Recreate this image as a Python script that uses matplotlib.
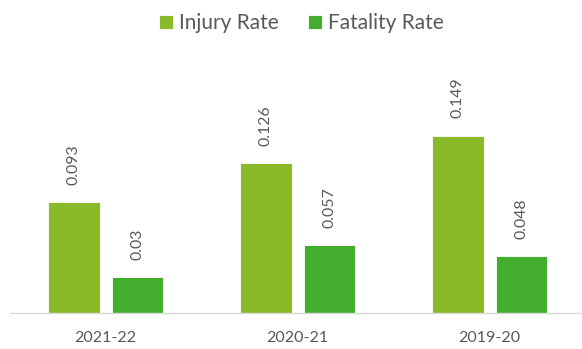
import numpy as np
import matplotlib.pyplot as plt

plt.rcParams['font.family'] = ['Lato', 'DejaVu Sans']

years = ['2021-22', '2020-21', '2019-20']
injury_rate = [0.093, 0.126, 0.149]
fatality_rate = [0.03, 0.057, 0.048]

injury_color = '#8aba2a'
fatality_color = '#43ae2e'
text_color = '#595959'

fig = plt.figure(figsize=(5.82, 3.49), dpi=100)
ax = fig.add_axes([9.5 / 582, 36 / 349, 576 / 582, 273 / 349])

x = np.arange(len(years))
width = 0.266
gap = 0.0625
off = (width + gap) / 2

b1 = ax.bar(x - off, injury_rate, width, color=injury_color, edgecolor='white',
            linewidth=0.6, label='Injury Rate')
b2 = ax.bar(x + off, fatality_rate, width, color=fatality_color, edgecolor='white',
            linewidth=0.6, label='Fatality Rate')

# value labels, rotated, sitting above each bar
for bars, vals in ((b1, injury_rate), (b2, fatality_rate)):
    for rect, v in zip(bars, vals):
        ax.annotate(f'{v:g}', (rect.get_x() + rect.get_width() / 2, v),
                    xytext=(0, 12.5), textcoords='offset points',
                    rotation=90, ha='center', va='bottom',
                    fontsize=11.4, color=text_color)

ax.set_xlim(-0.5, 2.5)
ax.set_ylim(0, 273 / 1190)
ax.set_xticks(x)
ax.set_xticklabels(years, fontsize=11.5, color=text_color)
ax.tick_params(axis='x', length=0, pad=13)
ax.set_yticks([])
for side in ('top', 'right', 'left'):
    ax.spines[side].set_visible(False)
ax.spines['bottom'].set_color('#d9d9d9')
ax.spines['bottom'].set_linewidth(1)

fig.legend(loc='center', bbox_to_anchor=(0.518, 0.933), ncol=2, frameon=False,
           fontsize=15, labelcolor=text_color, handlelength=0.65, handleheight=0.65,
           handletextpad=0.3, columnspacing=1.4)

fig.savefig('out.png', dpi=100)
